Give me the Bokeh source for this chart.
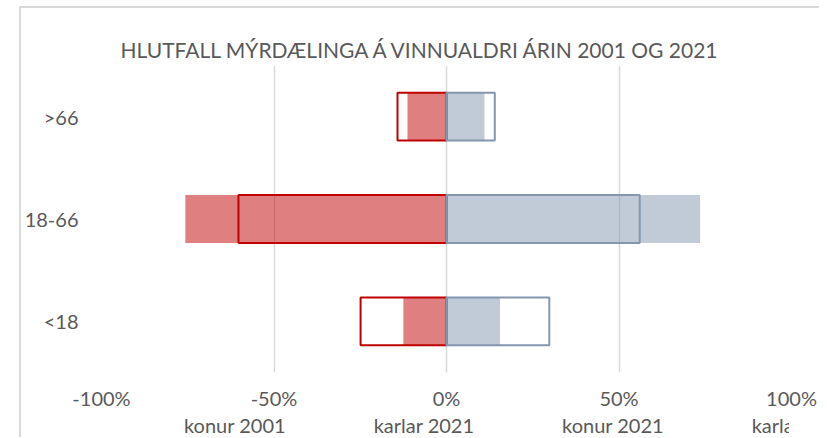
from bokeh.plotting import figure
from bokeh.layouts import column
from bokeh.models import Range1d, FixedTicker, Legend, LegendItem
from bokeh.embed import file_html
from bokeh.resources import INLINE

categories = ["<18", "18-66", ">66"]
konur_2001 = [-24.9, -60.3, -14.2]
konur_2021 = [-12.5, -75.7, -11.3]
karlar_2021 = [15.5, 73.5, 11.0]
karlar_2001 = [29.8, 56.0, 14.0]
tick_values = [-100, -50, 0, 50, 100]
tick_labels = ["-100%", "-50%", "0%", "50%", "100%"]
series_names = ["konur 2001", "karlar 2021", "konur 2021", "karlar 2001"]
title_text = "HLUTFALL MÝRDÆLINGA Á VINNUALDRI ÁRIN 2001 OG 2021"

FONT = "Lato"
TXT = "#595959"
RED = "#C00000"
BLUE = "#8497B0"
BORDER = "2px solid #D9D9D9"

p = figure(frame_width=688, frame_height=305, y_range=categories,
           x_range=Range1d(-100, 100), output_backend="svg", toolbar_location=None,
           min_border_left=80, min_border_right=30, min_border_top=57, min_border_bottom=40)
p.styles = {"margin-left": "19px", "margin-top": "6px",
            "border-left": BORDER, "border-top": BORDER}

p.title.text = title_text
p.title.align = "left"
p.title.text_font = FONT
p.title.text_font_size = "21px"
p.title.text_font_style = "normal"
p.title.text_color = TXT
p.title.standoff = 8
p.title.offset = 19

h = 0.468
p.hbar(y=categories, left=0, right=konur_2021, height=h,
       fill_color=RED, fill_alpha=0.5, line_color=None)
p.hbar(y=categories, left=0, right=karlar_2021, height=h,
       fill_color=BLUE, fill_alpha=0.5, line_color=None)
p.hbar(y=categories, left=0, right=konur_2001, height=h,
       fill_color=None, line_color=RED, line_width=2)
p.hbar(y=categories, left=0, right=karlar_2001, height=h,
       fill_color=None, line_color=BLUE, line_width=2)

p.xaxis.ticker = FixedTicker(ticks=tick_values)
p.xaxis.major_label_overrides = dict(zip(tick_values, tick_labels))
p.xgrid.ticker = FixedTicker(ticks=tick_values)
p.xgrid.grid_line_color = "#D9D9D9"
p.xgrid.grid_line_width = 1.5
p.ygrid.grid_line_color = None
p.outline_line_color = None

for ax in (p.xaxis, p.yaxis):
    ax.axis_line_color = None
    ax.major_tick_line_color = None
    ax.minor_tick_line_color = None
    ax.major_label_text_font = FONT
    ax.major_label_text_font_size = "20px"
    ax.major_label_text_color = TXT
p.yaxis.major_label_standoff = 17
p.xaxis.major_label_standoff = 7

# legend strip below the chart
lg = figure(width=798, height=27, x_range=Range1d(0, 1), y_range=Range1d(0, 1),
            output_backend="svg", toolbar_location=None,
            x_axis_location=None, y_axis_location=None,
            min_border=0, min_border_left=0, min_border_right=0,
            min_border_top=0, min_border_bottom=0)
lg.styles = {"margin-left": "19px", "border-left": BORDER}
lg.xgrid.grid_line_color = None
lg.ygrid.grid_line_color = None
lg.outline_line_color = None

g_k01 = lg.hbar(y=[], left=[], right=[], height=h,
                fill_color=None, line_color=RED, line_width=2)
g_m21 = lg.hbar(y=[], left=[], right=[], height=h,
                fill_color=BLUE, fill_alpha=0.5, line_color=None)
g_k21 = lg.hbar(y=[], left=[], right=[], height=h,
                fill_color=RED, fill_alpha=0.5, line_color=None)
g_m01 = lg.hbar(y=[], left=[], right=[], height=h,
                fill_color=None, line_color=BLUE, line_width=2)

legend = Legend(items=[LegendItem(label=n, renderers=[r]) for n, r in
                       zip(series_names, [g_k01, g_m21, g_k21, g_m01])],
                orientation="horizontal", location=(65, 0),
                border_line_color=None, background_fill_alpha=0,
                padding=0, margin=0, spacing=70, label_standoff=5,
                glyph_width=13, glyph_height=13, label_height=20,
                label_text_font=FONT, label_text_font_size="20px",
                label_text_color=TXT)
lg.add_layout(legend)

layout = column(p, lg, spacing=0)
open("out.html", "w").write(file_html(layout, INLINE))
